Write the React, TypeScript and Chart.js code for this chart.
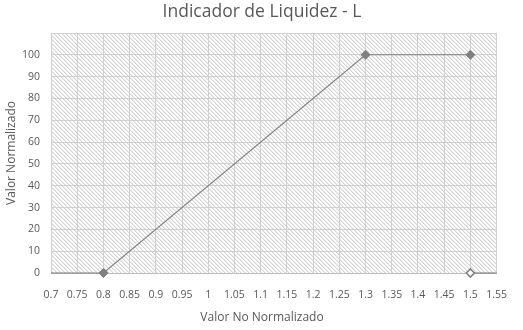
import React, { useEffect, useRef } from "react";
import { Chart, registerables } from "chart.js";

Chart.register(...registerables);

const titleText = "Indicador de Liquidez - L";
const xAxisTitle = "Valor No Normalizado";
const yAxisTitle = "Valor Normalizado";

const lineX = [0.7, 0.8, 1.3, 1.5];
const lineY = [0, 0, 100, 100];
const lineMarkers = [0, 4.5, 4.5, 4.5];

const tailX = [1.5, 1.55];
const tailY = [0, 0];
const tailMarkers = [4, 0];

const xMin = 0.7;
const xMax = 1.55;
const xStep = 0.05;
const yMin = 0;
const yMax = 110;
const yStep = 10;

const TEXT = "#595959";
const FONT = "Open Sans";

const hatchPlugin = {
  id: "hatch",
  beforeDraw(chart: any) {
    const { ctx, chartArea } = chart;
    if (!chartArea) return;
    const size = 4;
    const off = document.createElement("canvas");
    off.width = size;
    off.height = size;
    const octx = off.getContext("2d")!;
    const img = octx.createImageData(size, size);
    for (let y = 0; y < size; y++) {
      for (let x = 0; x < size; x++) {
        const d = (((x - y) % size) + size) % size;
        const v = d === 0 ? 214 : d === 1 ? 236 : 254;
        const i = (y * size + x) * 4;
        img.data[i] = v;
        img.data[i + 1] = v;
        img.data[i + 2] = v;
        img.data[i + 3] = 255;
      }
    }
    octx.putImageData(img, 0, 0);
    const pattern = ctx.createPattern(off, "repeat");
    ctx.save();
    ctx.fillStyle = pattern;
    ctx.fillRect(
      chartArea.left,
      chartArea.top,
      chartArea.right - chartArea.left,
      chartArea.bottom - chartArea.top
    );
    ctx.restore();
  },
};

const textPlugin = {
  id: "texts",
  afterDraw(chart: any) {
    const { ctx, chartArea } = chart;
    const cx = chart.width / 2 + 0.5;
    ctx.save();
    ctx.fillStyle = TEXT;
    ctx.textAlign = "center";
    ctx.textBaseline = "middle";
    ctx.font = `17.5px "${FONT}"`;
    ctx.fillText(titleText, cx, 12);
    ctx.font = `12px "${FONT}"`;
    ctx.fillText(xAxisTitle, cx, 318);
    ctx.translate(12, (chartArea.top + chartArea.bottom) / 2);
    ctx.rotate(-Math.PI / 2);
    ctx.fillText(yAxisTitle, 0, 0);
    ctx.restore();
  },
};

export default function App() {
  const ref = useRef<HTMLCanvasElement>(null);
  useEffect(() => {
    document.body.style.margin = "0";
    const canvas = ref.current!;
    const chart = new Chart(canvas, {
      type: "line",
      data: {
        datasets: [
          {
            data: lineX.map((x, i) => ({ x, y: lineY[i] })),
            borderColor: "#7f7f7f",
            borderWidth: 1.1,
            pointStyle: "rectRot",
            pointRadius: lineMarkers,
            pointBackgroundColor: "#808080",
            pointBorderColor: "#808080",
            pointBorderWidth: 1,
            tension: 0,
            clip: false,
          },
          {
            data: tailX.map((x, i) => ({ x, y: tailY[i] })),
            borderColor: "#7f7f7f",
            borderWidth: 1.1,
            pointStyle: "rectRot",
            pointRadius: tailMarkers,
            pointBackgroundColor: "#ffffff",
            pointBorderColor: "#808080",
            pointBorderWidth: 1.6,
            tension: 0,
            clip: false,
          },
        ],
      },
      options: {
        responsive: false,
        animation: false,
        layout: { padding: { left: 0, right: 24, top: 33, bottom: 0 } },
        plugins: {
          legend: { display: false },
          tooltip: { enabled: false },
          title: { display: false },
        },
        scales: {
          x: {
            type: "linear",
            min: xMin,
            max: xMax,
            afterBuildTicks(scale: any) {
              const ticks = [];
              for (let i = 0; i <= Math.round((xMax - xMin) / xStep); i++) {
                ticks.push({ value: Number((xMin + i * xStep).toFixed(2)) });
              }
              scale.ticks = ticks;
            },
            afterFit(scale: any) {
              scale.height = 57;
            },
            ticks: {
              autoSkip: false,
              maxRotation: 0,
              minRotation: 0,
              padding: 16,
              color: TEXT,
              font: { family: FONT, size: 10.5 },
              callback: (v: any) => String(Number(Number(v).toFixed(2))),
            },
            grid: { color: "#d0d0d0", drawTicks: false, lineWidth: 1 },
            border: { display: true, color: "#bfbfbf" },
          },
          y: {
            type: "linear",
            min: yMin,
            max: yMax,
            afterFit(scale: any) {
              scale.width = 51;
            },
            ticks: {
              stepSize: yStep,
              padding: 11,
              color: TEXT,
              font: { family: FONT, size: 10.5 },
              callback: (v: any) => (Number(v) >= yMax ? "" : String(v)),
            },
            grid: { color: "#d0d0d0", drawTicks: false, lineWidth: 1 },
            border: { display: false },
          },
        },
      },
      plugins: [hatchPlugin, textPlugin],
    } as any);
    return () => chart.destroy();
  }, []);
  return <canvas ref={ref} width={523} height={330} />;
}
